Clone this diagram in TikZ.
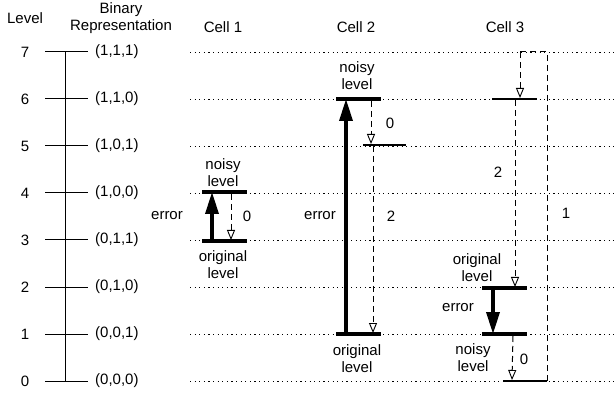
\documentclass[tikz,border=0pt]{standalone}
\usepackage{fontspec}
\setmainfont{Liberation Sans}
\usetikzlibrary{arrows.meta}
\begin{document}
\begin{tikzpicture}[x=1pt,y=-1pt,
  every node/.style={font=\fontsize{15}{17}\selectfont, inner sep=0pt, align=center},
  grid/.style={line width=0.9pt, dash pattern=on 1.2pt off 3.4pt},
  axis/.style={line width=1pt},
  bar/.style={line width=3.5pt},
  thinbar/.style={line width=1.1pt},
  jump/.style={line width=3.5pt, -{Triangle[width=13pt,length=22pt]}},
  drift/.style={line width=1pt, dash pattern=on 6pt off 4pt, -{Triangle[open,width=8pt,length=10pt,line width=0.9pt]}},
  driftline/.style={line width=1pt, dash pattern=on 6pt off 4pt}]
\useasboundingbox (0,0) rectangle (616,398);

% headers
\node (hlevel) at (25,18) {Level};
\node (hbin) at (121,18) {Binary\\Representation};
\node (hc1) at (223,27) {Cell 1};
\node (hc2) at (356,27) {Cell 2};
\node (hc3) at (505,27) {Cell 3};

% level axis with binary codes and dotted guide lines
\coordinate (atop) at (65,52);
\coordinate (abot) at (65,381);
\draw[axis] (atop) -- (abot);
\foreach \k/\code in {7/{(1,1,1)},6/{(1,1,0)},5/{(1,0,1)},4/{(1,0,0)},3/{(0,1,1)},2/{(0,1,0)},1/{(0,0,1)},0/{(0,0,0)}}{
  \pgfmathsetmacro{\yy}{381-47*\k}
  \node (lv\k) at (25,\yy) {\k};
  \coordinate (tl\k) at (45,\yy);
  \coordinate (tr\k) at (88,\yy);
  \draw[axis] (tl\k) -- (tr\k);
  \node[anchor=west] (bc\k) at (95,\yy) {\code};
  \coordinate (gl\k) at (190,\yy);
  \coordinate (gr\k) at (614,\yy);
  \draw[grid] (gl\k) -- (gr\k);
}

% ---- Cell 1: error 3 -> 4, drift back by 0
\coordinate (c1ul) at (202,192); \coordinate (c1ur) at (247,192);
\coordinate (c1ll) at (202,241); \coordinate (c1lr) at (247,241);
\draw[bar] (c1ul) -- (c1ur);
\draw[bar] (c1ll) -- (c1lr);
\coordinate (c1a0) at (212,241); \coordinate (c1a1) at (212,192);
\draw[jump] (c1a0) -- (c1a1);
\coordinate (c1d0) at (231,194); \coordinate (c1d1) at (231,240);
\draw[drift] (c1d0) -- (c1d1);
\node (c1noisy) at (223,173) {noisy\\level};
\node (c1orig) at (223,265) {original\\level};
\node (c1err) at (167,216) {error};
\node (c1z) at (247,216) {0};

% ---- Cell 2: error 1 -> 6, drift 6 -> 5 -> 1
\coordinate (c2ul) at (336,99); \coordinate (c2ur) at (381,99);
\coordinate (c2ll) at (336,334); \coordinate (c2lr) at (381,334);
\draw[bar] (c2ul) -- (c2ur);
\draw[bar] (c2ll) -- (c2lr);
\coordinate (c2a0) at (346,334); \coordinate (c2a1) at (346,99);
\draw[jump] (c2a0) -- (c2a1);
\coordinate (c2ml) at (363,145); \coordinate (c2mr) at (406,145);
\draw[thinbar] (c2ml) -- (c2mr);
\coordinate (c2d0) at (371,101); \coordinate (c2d1) at (371,144);
\draw[drift] (c2d0) -- (c2d1);
\coordinate (c2e0) at (373,146); \coordinate (c2e1) at (373,333);
\draw[drift] (c2e0) -- (c2e1);
\node (c2noisy) at (357,76) {noisy\\level};
\node (c2orig) at (357,359) {original\\level};
\node (c2err) at (320,216) {error};
\node (c2z) at (390,123) {0};
\node (c2t) at (391,216) {2};

% ---- Cell 3: drift 7 -> 6 -> 2, error 2 -> 1, drift 1 -> 0; overall 7 -> 0
\coordinate (c3top) at (547,52); \coordinate (c3topl) at (520,52);
\coordinate (c3bot) at (547,381); \coordinate (c3botl) at (503,381);
\draw[driftline] (c3topl) -- (c3top) -- (c3bot);
\draw[thinbar] (c3botl) -- (c3bot);
\coordinate (c3sl) at (492,99); \coordinate (c3sr) at (537,99);
\draw[thinbar] (c3sl) -- (c3sr);
\coordinate (c3f1) at (520,98);
\draw[drift] (c3topl) -- (c3f1);
\coordinate (c3g0) at (515,100); \coordinate (c3g1) at (515,287);
\draw[drift] (c3g0) -- (c3g1);
\coordinate (c3ul) at (482,288); \coordinate (c3ur) at (527,288);
\coordinate (c3ll) at (482,334); \coordinate (c3lr) at (527,334);
\draw[bar] (c3ul) -- (c3ur);
\draw[bar] (c3ll) -- (c3lr);
\coordinate (c3a0) at (493,288); \coordinate (c3a1) at (493,334);
\draw[jump] (c3a0) -- (c3a1);
\coordinate (c3h0) at (513,336); \coordinate (c3h1) at (512,380);
\draw[drift] (c3h0) -- (c3h1);
\node (c3orig) at (477,268) {original\\level};
\node (c3noisy) at (473,358) {noisy\\level};
\node (c3err) at (458,308) {error};
\node (c3t) at (498,172) {2};
\node (c3o) at (566,213) {1};
\node (c3z) at (524,359) {0};
\end{tikzpicture}
\end{document}
